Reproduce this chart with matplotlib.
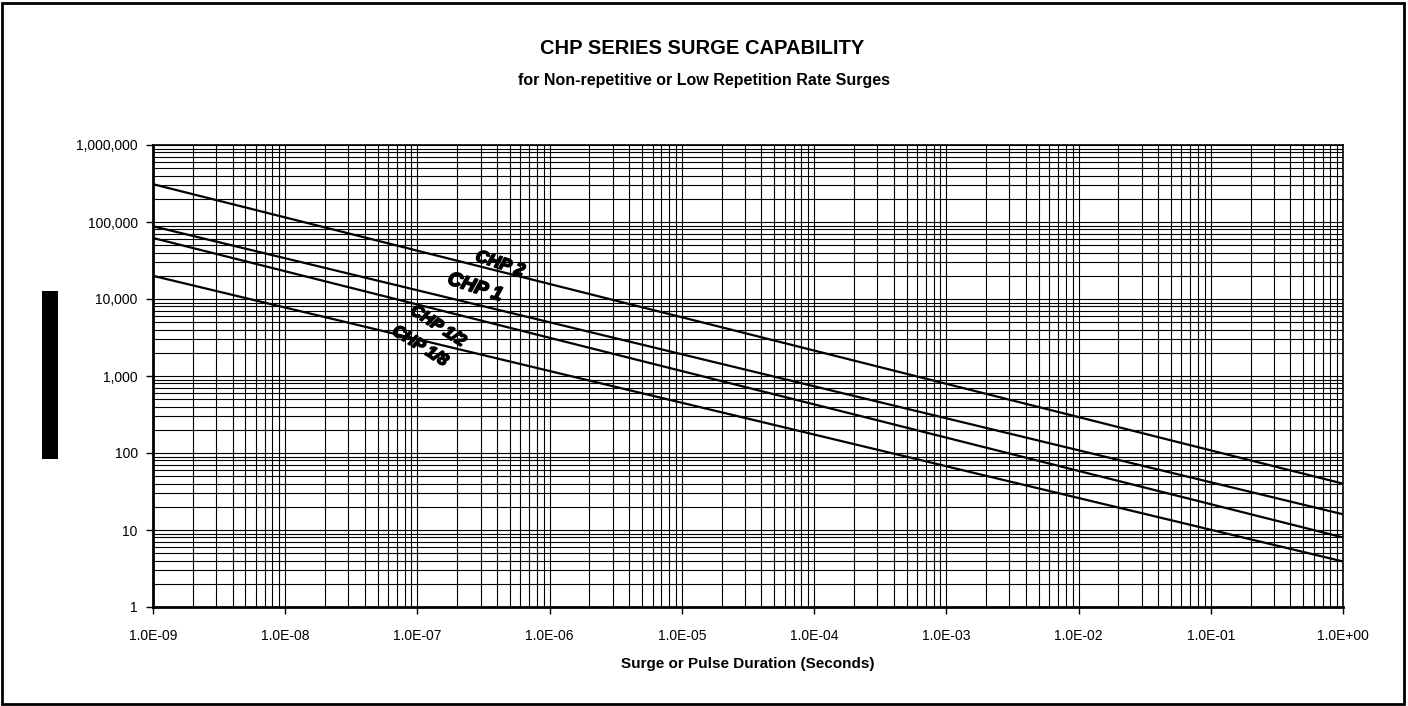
import matplotlib
matplotlib.use("Agg")
import matplotlib.pyplot as plt
import matplotlib.ticker as mticker
import matplotlib.patheffects as pe
from matplotlib.patches import Rectangle

plt.rcParams['font.family'] = ['Liberation Sans', 'DejaVu Sans']

# Data: pulse duration (s) endpoints and surge capability values
duration = [1e-9, 1.0]
series_names = ["CHP 2", "CHP 1", "CHP 1/2", "CHP 1/8"]
chp2 = [310000, 40]
chp1 = [88000, 16]
chp_half = [62000, 8]
chp_eighth = [20000, 3.9]
series_values = [chp2, chp1, chp_half, chp_eighth]

x_ticks = [1e-9, 1e-8, 1e-7, 1e-6, 1e-5, 1e-4, 1e-3, 1e-2, 1e-1, 1e0]
x_tick_labels = ["1.0E-09", "1.0E-08", "1.0E-07", "1.0E-06", "1.0E-05",
                 "1.0E-04", "1.0E-03", "1.0E-02", "1.0E-01", "1.0E+00"]
y_ticks = [1, 10, 100, 1000, 10000, 100000, 1000000]
y_tick_labels = ["1", "10", "100", "1,000", "10,000", "100,000", "1,000,000"]

fig = plt.figure(figsize=(14.08, 7.06), dpi=100)
ax = fig.add_axes([153/1408, 1-607/706, 1190/1408, 462/706])

for vals in series_values:
    ax.plot(duration, vals, color='black', lw=1.6, solid_capstyle='butt', zorder=3)

ax.set_xscale('log')
ax.set_yscale('log')
ax.set_xlim(1e-9, 1)
ax.set_ylim(1, 1e6)
ax.xaxis.set_major_locator(mticker.FixedLocator(x_ticks))
ax.set_xticklabels(x_tick_labels)
ax.yaxis.set_major_locator(mticker.FixedLocator(y_ticks))
ax.set_yticklabels(y_tick_labels)
ax.xaxis.set_minor_locator(mticker.LogLocator(base=10, subs=range(2, 10), numticks=100))
ax.yaxis.set_minor_locator(mticker.LogLocator(base=10, subs=range(2, 10), numticks=100))
ax.xaxis.set_minor_formatter(mticker.NullFormatter())
ax.yaxis.set_minor_formatter(mticker.NullFormatter())
ax.grid(True, which='both', color='black', lw=0.8)
ax.set_axisbelow(True)
ax.tick_params(which='minor', length=0)
ax.tick_params(which='major', length=5, width=1, direction='out', labelsize=10, pad=11)
ax.tick_params(axis='y', pad=6)
for s in ax.spines.values():
    s.set_linewidth(1.2)
ax.spines['left'].set_linewidth(2)
ax.spines['bottom'].set_linewidth(2)

# curve labels
label_specs = [
    (0.2916, 0.7424, -18, 12.5),
    (0.2706, 0.6905, -18, 14),
    (0.2395, 0.6082, -33, 12),
    (0.2244, 0.5649, -32, 12),
]
for name, (fx, fy, rot, fs) in zip(series_names, label_specs):
    ax.text(fx, fy, name, transform=ax.transAxes, rotation=rot, ha='center', va='center',
            rotation_mode='anchor', fontsize=fs, fontweight='bold', fontstyle='italic', zorder=4,
            path_effects=[pe.withStroke(linewidth=1.2, foreground='black')])

fig.text(0.499, 0.932, "CHP SERIES SURGE CAPABILITY", ha='center', va='center',
         fontsize=14.5, fontweight='bold')
fig.text(0.500, 0.886, "for Non-repetitive or Low Repetition Rate Surges", ha='center', va='center',
         fontsize=11.5, fontweight='bold')
fig.text(748/1408, 1-664/706, "Surge or Pulse Duration (Seconds)", ha='center', va='center',
         fontsize=11, fontweight='bold')

# redacted y label block
fig.patches.append(Rectangle((42/1408, 1-459/706), 16/1408, 168/706, transform=fig.transFigure,
                             facecolor='black', edgecolor='none'))
# outer border
fig.patches.append(Rectangle((2/1408, 2/706), 1402/1408, 701/706, transform=fig.transFigure,
                             facecolor='none', edgecolor='black', lw=2))

fig.savefig("out.png", dpi=100)
